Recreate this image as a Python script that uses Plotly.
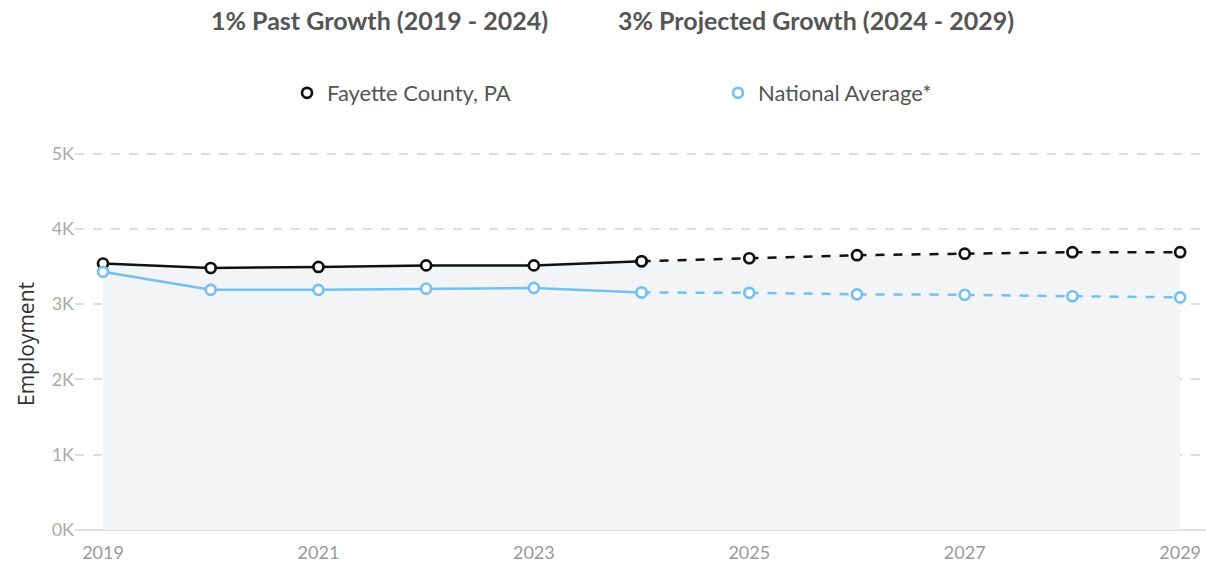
import plotly.graph_objects as go

years = [2019, 2020, 2021, 2022, 2023, 2024, 2025, 2026, 2027, 2028, 2029]
fayette = [3540, 3480, 3495, 3515, 3515, 3570, 3610, 3650, 3670, 3690, 3690]
national = [3430, 3190, 3190, 3205, 3215, 3155, 3150, 3130, 3125, 3105, 3090]
split_year = 2024
y_tickvals = [0, 1000, 2000, 3000, 4000, 5000]
y_ticktext = ["0K", "1K", "2K", "3K", "4K", "5K"]
x_tickvals = [2019, 2021, 2023, 2025, 2027, 2029]
title_past = "1% Past Growth (2019 - 2024)"
title_proj = "3% Projected Growth (2024 - 2029)"

BLACK = "#111111"
BLUE = "#74c0f0"
FONT = "Lato"

W, H = 1206, 567
L, T, B = 75, 131, 37
PW, PH = W - L, H - T - B

def px(xpix):
    return (xpix - L) / PW

def py(ypix):
    return (H - B - ypix) / PH

past_idx = [i for i, y in enumerate(years) if y <= split_year]
proj_idx = [i for i, y in enumerate(years) if y >= split_year]

fig = go.Figure()

fig.add_trace(go.Scatter(x=years, y=fayette, mode="lines", line=dict(width=0),
                         fill="tozeroy", fillcolor="#f3f4f6", showlegend=False,
                         hoverinfo="skip"))

def add_series(vals, color, name):
    marker = dict(symbol="circle", size=10, color="white",
                  line=dict(color=color, width=2.7))
    fig.add_trace(go.Scatter(x=[years[i] for i in past_idx], y=[vals[i] for i in past_idx],
                             mode="lines+markers", name=name, showlegend=False,
                             line=dict(color=color, width=2.5), marker=marker))
    fig.add_trace(go.Scatter(x=[years[i] for i in proj_idx], y=[vals[i] for i in proj_idx],
                             mode="lines+markers", name=name, showlegend=False,
                             line=dict(color=color, width=2.5, dash="dash"), marker=marker))
    fig.add_trace(go.Scatter(x=[None], y=[None], mode="markers", name=name,
                             marker=marker, showlegend=True))

add_series(fayette, BLACK, "Fayette County, PA")
add_series(national, BLUE, "National Average*")

fig.update_layout(
    width=W, height=H,
    margin=dict(l=L, r=0, t=T, b=B),
    paper_bgcolor="white", plot_bgcolor="white",
    font=dict(family=FONT, color="#555555"),
    showlegend=True,
    legend=dict(orientation="h", x=px(287), xanchor="left",
                y=py(93), yanchor="middle",
                font=dict(family=FONT, size=22, color="#555555"),
                entrywidth=386, entrywidthmode="pixels",
                itemwidth=30, bgcolor="rgba(0,0,0,0)"),
    xaxis=dict(range=[2018.74, 2029.24], tickvals=x_tickvals, showgrid=False,
               zeroline=False, showline=False,
               tickfont=dict(family=FONT, size=18, color="#999999"),
               ticks="", ticklabelstandoff=10),
    yaxis=dict(range=[0, 5300], tickvals=y_tickvals, ticktext=y_ticktext,
               showgrid=True, gridcolor="#dddddd", griddash="dash", gridwidth=1.5,
               zeroline=True, zerolinecolor="#dddddd", zerolinewidth=2,
               tickfont=dict(family=FONT, size=18, color="#aaaaaa"),
               ticks="", ticklabelstandoff=0, showline=False),
    annotations=[
        dict(text="<b>" + title_past + "</b>", xref="paper", yref="paper",
             x=px(379), y=py(20), xanchor="center", yanchor="middle",
             showarrow=False, font=dict(family=FONT, size=25, color="#555555")),
        dict(text="<b>" + title_proj + "</b>", xref="paper", yref="paper",
             x=px(816), y=py(20), xanchor="center", yanchor="middle",
             showarrow=False, font=dict(family=FONT, size=25, color="#555555")),
        dict(text="Employment", xref="paper", yref="paper", x=px(26),
             y=py(344), xanchor="center", yanchor="middle", textangle=-90,
             showarrow=False, font=dict(family="Open Sans", size=21, color="#333333")),
    ],
)

fig.write_html("out.html", config={"displayModeBar": False},
               post_script="document.body.style.margin='0px';document.body.style.overflow='hidden';")
